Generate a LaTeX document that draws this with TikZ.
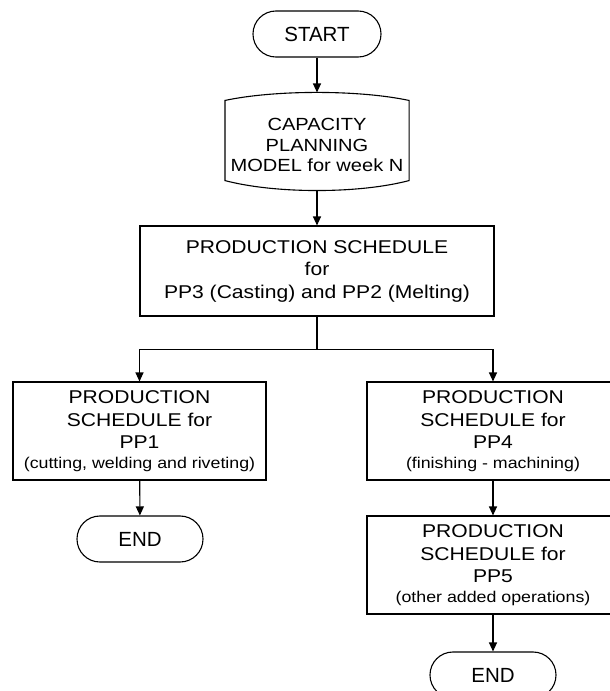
\documentclass[tikz,border=0pt]{standalone}
\usepackage{fontspec}
\setmainfont{Liberation Sans}
\newfontfamily\wide[FakeStretch=1.14]{Liberation Sans}
\usetikzlibrary{arrows.meta,calc}
\newcommand\smw{\fontsize{15.6}{18}\selectfont}
\begin{document}
\begin{tikzpicture}[x=1pt,y=1pt,
  line width=1.1pt,
  term/.style={draw, rounded corners=22.9pt, minimum width=126pt, minimum height=46pt, inner sep=0pt, font=\fontsize{20.5}{24}\selectfont},
  proc/.style={draw, align=center, inner sep=0pt, font=\wide\fontsize{18.5}{22.5}\selectfont},
  arr/.style={-{Triangle[length=9pt,width=8pt]}},
]
\useasboundingbox (0,0) rectangle (610,-691);
\node[term, minimum width=128pt] (start) at (317,-34) {START};
\node[inner sep=0pt, minimum width=183pt, minimum height=97pt] (cap) at (317,-141.5) {};
\node[align=center, inner sep=0pt, font=\wide\fontsize{17.6}{20.7}\selectfont] (captext) at (317,-145) {CAPACITY\\PLANNING\\MODEL for week N};
\coordinate (tl) at ($(cap.north west)+(0,-8)$);
\coordinate (tr) at ($(cap.north east)+(0,-8)$);
\coordinate (bl) at ($(cap.south west)+(0,10)$);
\coordinate (brr) at ($(cap.south east)+(0,10)$);
\draw (tl) .. controls ($(tl)+(50,10.7)$) and ($(tr)+(-50,10.7)$) .. (tr)
  -- (brr) .. controls ($(brr)+(-50,-13.3)$) and ($(bl)+(50,-13.3)$) .. (bl) -- cycle;
\node[proc, minimum width=354pt, minimum height=90pt] (main) at (317,-271)
  {PRODUCTION SCHEDULE\\for\\PP3 (Casting) and PP2 (Melting)};
\node[proc, minimum width=253pt, minimum height=98pt] (left) at (139.5,-431)
  {PRODUCTION\\SCHEDULE for\\PP1\\[-3pt]{\smw (cutting, welding and riveting)}};
\node[proc, minimum width=252pt, minimum height=98pt] (right) at (493,-431)
  {PRODUCTION\\SCHEDULE for\\PP4\\[-3pt]{\smw (finishing - machining)}};
\node[proc, minimum width=252pt, minimum height=98pt] (pp5) at (493,-565)
  {PRODUCTION\\SCHEDULE for\\PP5\\[-3pt]{\smw (other added operations)}};
\node[term] (end1) at (140,-539) {END};
\node[term] (end2) at (493,-675) {END};
\draw[arr] (start) -- (cap.north);
\draw[arr] (cap.south) -- (main.north);
\draw (main.south) -- ++(0,-33) coordinate (br);
\draw[arr] (br) -| (left.north);
\draw[arr] (br) -| (right.north);
\draw[arr] (left) -- (end1);
\draw[arr] (right) -- (pp5);
\draw[arr] (pp5) -- (end2);
\end{tikzpicture}
\end{document}
